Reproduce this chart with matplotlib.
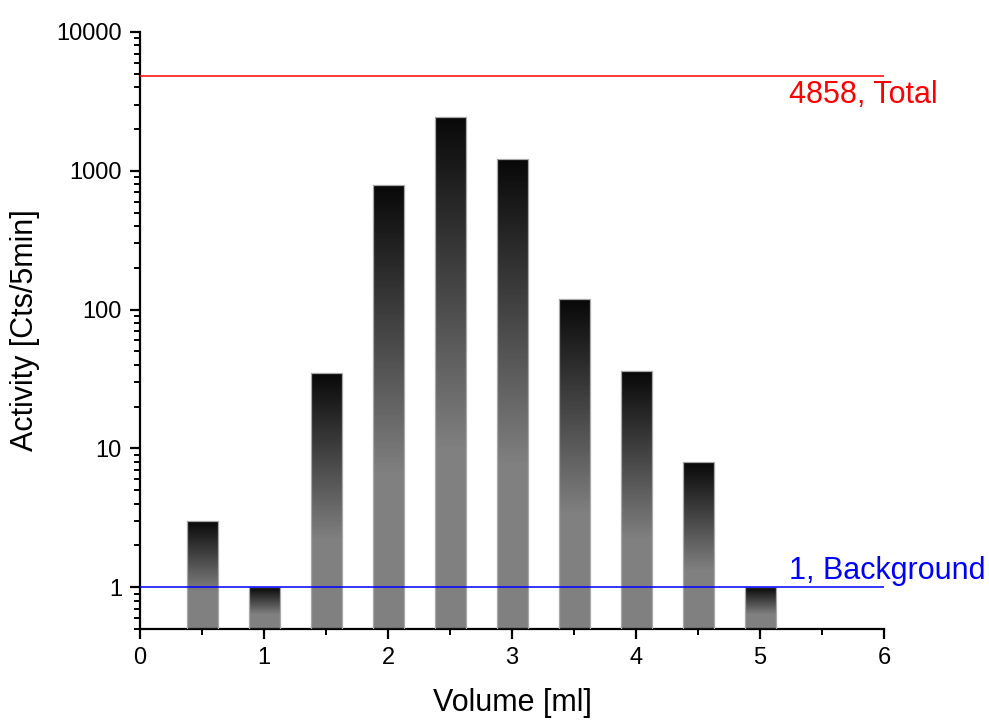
import numpy as np
import matplotlib
matplotlib.use('Agg')
import matplotlib.pyplot as plt

plt.rcParams['font.family'] = ['Liberation Sans', 'DejaVu Sans']

volume = [0.5, 1.0, 1.5, 2.0, 2.5, 3.0, 3.5, 4.0, 4.5, 5.0]
activity = [3, 1, 35, 795, 2460, 1220, 119, 36, 8, 1]
total = 4858
background = 1
xticks = [0, 1, 2, 3, 4, 5, 6]
yticks = [1, 10, 100, 1000, 10000]

base = 0.5
width = 0.25
nseg = 250


def shade(t):
    # grey at the foot of a bar, fading to near black at its top
    if t < 0.35:
        return 0.5
    return 0.5 - 0.47 * (t - 0.35) / 0.65


fig = plt.figure(figsize=(9.89, 7.23), dpi=100)
ax = fig.add_axes([140/989, 1 - 629/723, 744/989, 597/723])
ax.set_yscale('log')

for x, h in zip(volume, activity):
    edges = np.geomspace(base, h, nseg + 1)
    # each slice runs to the bar top, so the next one paints over it without seams
    for i in range(nseg):
        g = shade((i + 0.5) / nseg)
        ax.bar(x, h - edges[i], bottom=edges[i], width=width,
               color=(g, g, g), lw=0, antialiased=False, zorder=2)
    ax.bar(x, h - base, bottom=base, width=width, facecolor='none',
           edgecolor='#a8a8a8', lw=0.9, zorder=3)

ax.axhline(total, color='red', lw=1.1, zorder=4)
ax.axhline(background, color='blue', lw=1.1, zorder=4)
ax.annotate(f'{total}, Total', xy=(5.23, total), xytext=(0, -19.5),
            textcoords='offset points', color='red', fontsize=22,
            va='baseline', ha='left', annotation_clip=False)
ax.annotate(f'{background}, Background', xy=(5.23, background), xytext=(0, 5.8),
            textcoords='offset points', color='blue', fontsize=22,
            va='baseline', ha='left', annotation_clip=False)

ax.set_xlim(0, 6)
ax.set_ylim(0.5, 10000)
ax.set_xticks(xticks)
ax.set_xticks(np.arange(0.5, 6, 1.0), minor=True)
ax.set_yticks(yticks)
ax.set_yticklabels([str(v) for v in yticks])
ax.yaxis.set_minor_locator(matplotlib.ticker.LogLocator(base=10, subs=np.arange(2, 10)))
ax.yaxis.set_minor_formatter(matplotlib.ticker.NullFormatter())

for s in ['top', 'right']:
    ax.spines[s].set_visible(False)
for s in ['left', 'bottom']:
    ax.spines[s].set_linewidth(1.6)

ax.tick_params(which='major', direction='out', length=7, width=1.6, labelsize=17, pad=6)
ax.tick_params(which='minor', direction='out', length=4, width=1.4)

ax.set_xlabel('Volume [ml]', fontsize=22, labelpad=14)
ax.set_ylabel('Activity [Cts/5min]', fontsize=22, labelpad=12)

fig.savefig('out.png', dpi=100)
